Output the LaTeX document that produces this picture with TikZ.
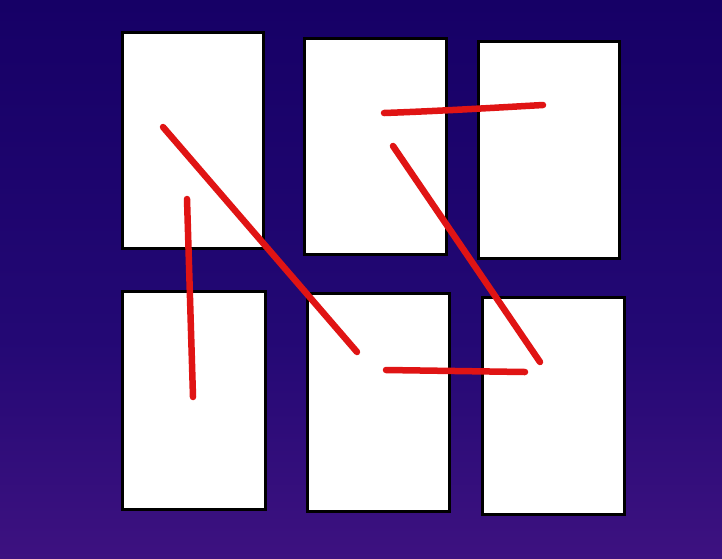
\documentclass[tikz,border=0pt]{standalone}
\usetikzlibrary{shadows}
\definecolor{bgtop}{HTML}{160066}
\definecolor{bgmid}{HTML}{230874}
\definecolor{bgbot}{HTML}{4E1888}
\definecolor{inkred}{HTML}{E01414}
\pgfdeclareverticalshading{bgshade}{100bp}{
  color(0bp)=(bgbot);
  color(12bp)=(bgbot);
  color(45bp)=(bgmid);
  color(75bp)=(bgtop);
  color(100bp)=(bgtop)}
\tikzset{
  card/.style={draw=black, line width=2.6pt, fill=white, inner sep=0pt,
    anchor=north west, drop shadow={shadow xshift=1.5pt, shadow yshift=-1.5pt, opacity=0.6, fill=black}},
  stroke/.style={draw=inkred, line width=6.5pt, line cap=round}
}
\begin{document}
\begin{tikzpicture}[x=1pt,y=-1pt]
\useasboundingbox (0,0) rectangle (722,558);
\shade[shading=bgshade] (0,0) rectangle (722,558);
\node[card, minimum width=141pt, minimum height=216pt] (r1) at (121,31) {};
\node[card, minimum width=142pt, minimum height=216pt] (r2) at (303,37) {};
\node[card, minimum width=141pt, minimum height=217pt] (r3) at (477,40) {};
\node[card, minimum width=143pt, minimum height=218pt] (r4) at (121,290) {};
\node[card, minimum width=142pt, minimum height=218pt] (r5) at (306,292) {};
\node[card, minimum width=142pt, minimum height=217pt] (r6) at (481,296) {};
\coordinate (a1) at (163,127);
\coordinate (a2) at (357,352);
\coordinate (b1) at (187,199);
\coordinate (b2) at (193,397);
\coordinate (c1) at (384,113);
\coordinate (c2) at (543,105);
\coordinate (d1) at (393,146);
\coordinate (d2) at (540,362);
\coordinate (e1) at (386,370);
\coordinate (e2) at (525,372);
\draw[stroke] (a1) -- (a2);
\draw[stroke] (b1) -- (b2);
\draw[stroke] (c1) .. controls (440,111) and (490,108) .. (c2);
\draw[stroke] (d1) -- (d2);
\draw[stroke] (e1) -- (e2);
\end{tikzpicture}
\end{document}
